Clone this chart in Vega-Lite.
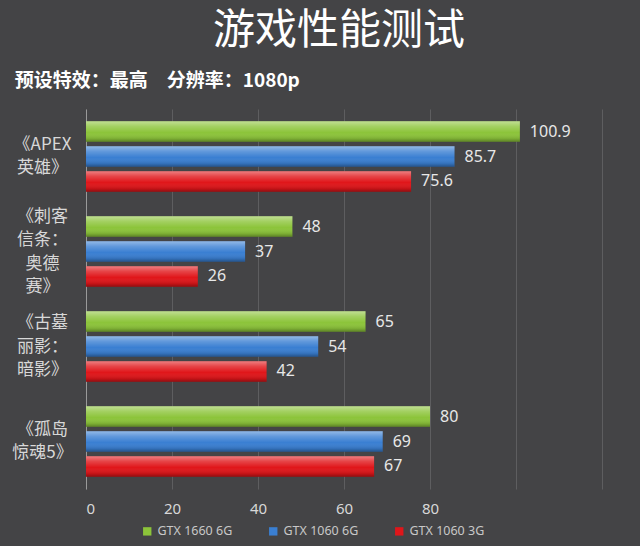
{
  "$schema": "https://vega.github.io/schema/vega-lite/v6.json",
  "background": "#444446",
  "padding": {"left": 11, "top": 10, "right": 38, "bottom": 10},
  "title": {
    "text": "游戏性能测试",
    "anchor": "middle",
    "dx": 32,
    "fontSize": 42,
    "font": "Noto Sans CJK SC",
    "fontWeight": "normal",
    "color": "#ffffff",
    "offset": 19
  },
  "data": {
    "values": [
      {"game": "《APEX|英雄》", "gpu": "GTX 1660 6G", "fps": 100.9},
      {"game": "《APEX|英雄》", "gpu": "GTX 1060 6G", "fps": 85.7},
      {"game": "《APEX|英雄》", "gpu": "GTX 1060 3G", "fps": 75.6},
      {"game": "《刺客|信条：|奥德|赛》", "gpu": "GTX 1660 6G", "fps": 48},
      {"game": "《刺客|信条：|奥德|赛》", "gpu": "GTX 1060 6G", "fps": 37},
      {"game": "《刺客|信条：|奥德|赛》", "gpu": "GTX 1060 3G", "fps": 26},
      {"game": "《古墓|丽影：|暗影》", "gpu": "GTX 1660 6G", "fps": 65},
      {"game": "《古墓|丽影：|暗影》", "gpu": "GTX 1060 6G", "fps": 54},
      {"game": "《古墓|丽影：|暗影》", "gpu": "GTX 1060 3G", "fps": 42},
      {"game": "《孤岛|惊魂5》", "gpu": "GTX 1660 6G", "fps": 80},
      {"game": "《孤岛|惊魂5》", "gpu": "GTX 1060 6G", "fps": 69},
      {"game": "《孤岛|惊魂5》", "gpu": "GTX 1060 3G", "fps": 67}
    ]
  },
  "vconcat": [
    {
      "title": {
        "text": "预设特效：最高　分辨率：1080p",
        "anchor": "start",
        "frame": "bounds",
        "dx": 3,
        "fontSize": 19,
        "font": "Noto Sans CJK SC",
        "fontWeight": "bold",
        "color": "#ffffff",
        "offset": 18
      },
      "width": 516,
      "height": 380,
      "encoding": {
        "y": {
          "field": "game",
          "type": "nominal",
          "sort": null,
          "scale": {"paddingInner": 0.26, "paddingOuter": 0.13},
          "axis": {
            "title": null,
            "labelExpr": "split(datum.label, '|')",
            "labelAlign": "center",
            "labelPadding": 44,
            "labelOffset": {
              "condition": [
                {"test": "indexof(datum.value, '奥德') >= 0", "value": -35},
                {"test": "indexof(datum.value, '暗影') >= 0", "value": -23.5}
              ],
              "value": -11.75
            },
            "labelFontSize": 17,
            "labelLineHeight": 23.5,
            "labelFont": "Noto Sans CJK SC",
            "labelColor": "#d8d8d8",
            "ticks": false,
            "domain": true,
            "domainColor": "#9a9a9a",
            "grid": false
          }
        },
        "yOffset": {
          "field": "gpu",
          "type": "nominal",
          "sort": ["GTX 1660 6G", "GTX 1060 6G", "GTX 1060 3G"],
          "scale": {"paddingInner": 0.18, "paddingOuter": 0}
        },
        "x": {
          "field": "fps",
          "type": "quantitative",
          "scale": {"domain": [0, 120], "nice": false},
          "axis": {
            "title": null,
            "values": [0, 20, 40, 60, 80, 100, 120],
            "labelExpr": "datum.value > 80 ? '' : datum.label",
            "labelFontSize": 15,
            "labelFont": "Noto Sans",
            "labelColor": "#d8d8d8",
            "labelPadding": 12,
            "domain": false,
            "ticks": false,
            "grid": true,
            "gridColor": "#5e5e60",
            "gridWidth": 1
          }
        }
      },
      "layer": [
        {
          "mark": {"type": "bar"},
          "encoding": {
            "color": {
              "field": "gpu",
              "type": "nominal",
              "sort": ["GTX 1660 6G", "GTX 1060 6G", "GTX 1060 3G"],
              "scale": {
                "domain": ["GTX 1660 6G", "GTX 1060 6G", "GTX 1060 3G"],
                "range": ["#8cc43a", "#3a7fd2", "#e0161a"]
              },
              "legend": {
                "title": null,
                "orient": "none",
                "direction": "horizontal",
                "legendX": 55,
                "legendY": 416,
                "symbolType": "square",
                "symbolSize": 70,
                "symbolStrokeWidth": 0,
                "labelColor": "#c8c8c8",
                "labelFontSize": 12.5,
                "labelFont": "Noto Sans",
                "columnPadding": 34,
                "labelOffset": 4
              }
            }
          }
        },
        {
          "mark": {
            "type": "bar",
            "color": {
              "gradient": "linear",
              "x1": 0, "y1": 0, "x2": 0, "y2": 1,
              "stops": [
                {"offset": 0, "color": "rgba(255,255,255,0.45)"},
                {"offset": 0.25, "color": "rgba(255,255,255,0.2)"},
                {"offset": 0.55, "color": "rgba(255,255,255,0)"},
                {"offset": 0.85, "color": "rgba(0,0,0,0.12)"},
                {"offset": 1, "color": "rgba(0,0,0,0.35)"}
              ]
            }
          }
        },
        {
          "mark": {
            "type": "text",
            "align": "left",
            "baseline": "middle",
            "dx": 10,
            "fontSize": 16,
            "font": "Noto Sans",
            "color": "#e8e8e8"
          },
          "encoding": {
            "text": {"field": "fps", "type": "nominal"}
          }
        }
      ]
    }
  ],
  "config": {
    "view": {"stroke": null},
    "concat": {"spacing": 0}
  }
}
